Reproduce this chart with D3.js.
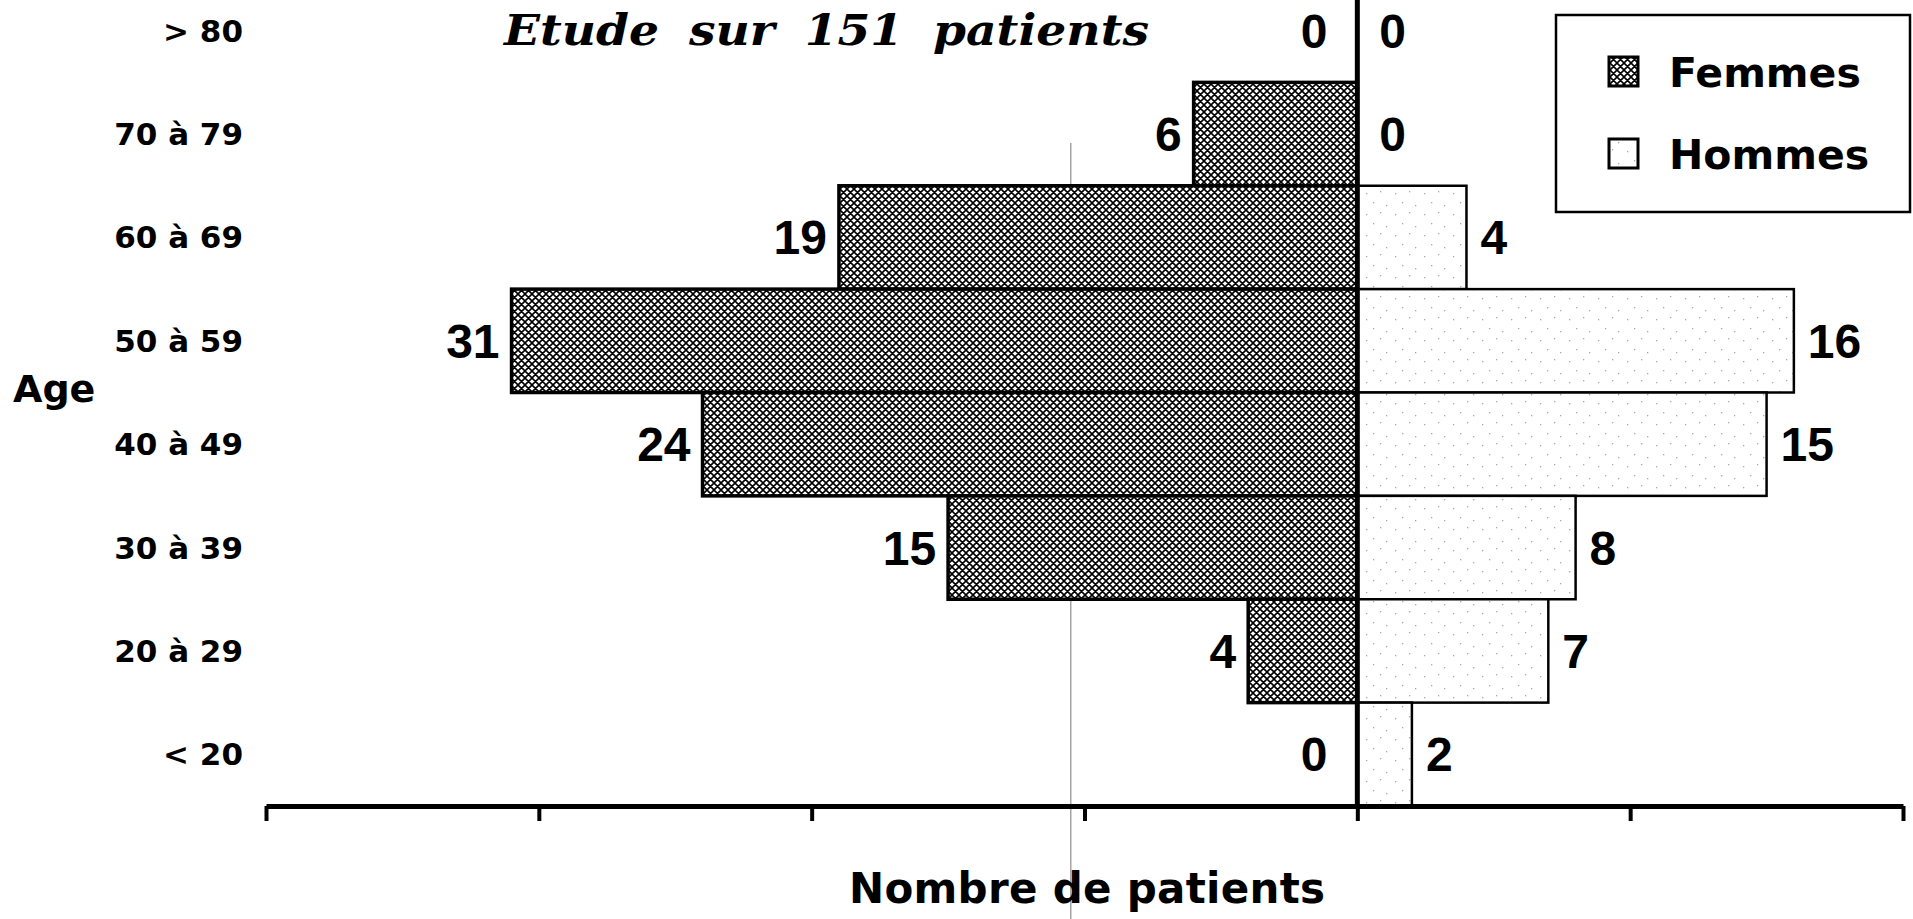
<!DOCTYPE html>
<html lang="fr">
<head>
   <meta charset="utf-8">
   <title>Etude sur 151 patients</title>
   <script src="https://cdn.jsdelivr.net/npm/d3@7/dist/d3.min.js"></script>
   <style type="text/css">
      body { margin: 0; background: #fff; }
      svg { display: block; }
   </style>
</head>
<body>
   <script type="text/javascript">

      var w = 1913;
      var h = 919;

      // data
      var ages = ["> 80", "70 à 79", "60 à 69", "50 à 59", "40 à 49", "30 à 39", "20 à 29", "< 20"];
      var femmes = [0, 6, 19, 31, 24, 15, 4, 0];
      var hommes = [0, 0, 4, 16, 15, 8, 7, 2];
      var xTicks = [-40, -30, -20, -10, 0, 10, 20];
      var seriesNames = ["Femmes", "Hommes"];

      var dataset = ages.map(function(a, i) {
         return { age: a, f: femmes[i], m: hommes[i] };
      });

      var xScale = d3.scaleLinear()
                     .domain([-40, 20])
                     .range([266, 1903]);

      var yScale = d3.scaleBand()
                     .domain(ages)
                     .range([-21, 806])
                     .padding(0);

      var svg = d3.select("body")
                  .append("svg")
                  .attr("width", w)
                  .attr("height", h);

      var defs = svg.append("defs");

      // crosshatch for femmes
      var hatch = defs.append("pattern")
         .attr("id", "hatch")
         .attr("patternUnits", "userSpaceOnUse")
         .attr("width", 7)
         .attr("height", 7);
      hatch.append("rect").attr("width", 7).attr("height", 7).attr("fill", "#fff");
      hatch.append("path")
         .attr("d", "M0,0L7,7M7,0L0,7M-1,1L1,-1M6,8L8,6M-1,6L1,8M6,-1L8,1")
         .attr("stroke", "#000")
         .attr("stroke-width", 1.6);

      // light stipple for hommes
      var dots = defs.append("pattern")
         .attr("id", "dots")
         .attr("patternUnits", "userSpaceOnUse")
         .attr("width", 29)
         .attr("height", 21);
      dots.append("rect").attr("width", 29).attr("height", 21).attr("fill", "#fff");
      [[3, 4], [17, 2], [10, 13], [23, 16]].forEach(function(p) {
         dots.append("rect")
            .attr("x", p[0]).attr("y", p[1])
            .attr("width", 1.3).attr("height", 1.3)
            .attr("fill", "#aaa");
      });

      // faint scan line
      svg.append("line")
         .attr("x1", xScale(-10.5)).attr("x2", xScale(-10.5))
         .attr("y1", 143).attr("y2", h)
         .attr("stroke", "#777")
         .attr("stroke-width", 1);

      // femmes bars
      svg.selectAll("rect.f")
         .data(dataset.filter(function(d) { return d.f > 0; }))
         .enter()
         .append("rect")
         .attr("class", "f")
         .attr("x", function(d) { return xScale(-d.f); })
         .attr("y", function(d) { return yScale(d.age); })
         .attr("width", function(d) { return xScale(0) - xScale(-d.f); })
         .attr("height", yScale.bandwidth())
         .attr("fill", "url(#hatch)")
         .attr("stroke", "#000")
         .attr("stroke-width", 3.5);

      // hommes bars
      svg.selectAll("rect.m")
         .data(dataset.filter(function(d) { return d.m > 0; }))
         .enter()
         .append("rect")
         .attr("class", "m")
         .attr("x", xScale(0))
         .attr("y", function(d) { return yScale(d.age); })
         .attr("width", function(d) { return xScale(d.m) - xScale(0); })
         .attr("height", yScale.bandwidth())
         .attr("fill", "url(#dots)")
         .attr("stroke", "#000")
         .attr("stroke-width", 2.5);

      // value labels
      svg.selectAll("text.fv")
         .data(dataset)
         .enter()
         .append("text")
         .attr("class", "fv")
         .attr("x", function(d) { return xScale(-d.f) - (d.f === 0 ? 30 : 12); })
         .attr("y", function(d) { return yScale(d.age) + yScale.bandwidth() / 2 + 17; })
         .attr("text-anchor", "end")
         .attr("font-family", "Liberation Sans, Arial, sans-serif")
         .attr("font-weight", "bold")
         .attr("font-size", "48px")
         .text(function(d) { return d.f; });

      svg.selectAll("text.mv")
         .data(dataset)
         .enter()
         .append("text")
         .attr("class", "mv")
         .attr("x", function(d) { return xScale(d.m) + (d.m === 0 ? 22 : 14); })
         .attr("y", function(d) { return yScale(d.age) + yScale.bandwidth() / 2 + 17; })
         .attr("text-anchor", "start")
         .attr("font-family", "Liberation Sans, Arial, sans-serif")
         .attr("font-weight", "bold")
         .attr("font-size", "48px")
         .text(function(d) { return d.m; });

      // age labels
      svg.selectAll("text.age")
         .data(ages)
         .enter()
         .append("text")
         .attr("class", "age")
         .attr("x", 243)
         .attr("y", function(d) { return yScale(d) + yScale.bandwidth() / 2 + 11; })
         .attr("text-anchor", "end")
         .attr("font-family", "DejaVu Sans, sans-serif")
         .attr("font-weight", "bold")
         .attr("font-size", "31px")
         .text(function(d) { return d; });

      // center axis
      svg.append("line")
         .attr("x1", xScale(0)).attr("x2", xScale(0))
         .attr("y1", 0).attr("y2", 806)
         .attr("stroke", "#000")
         .attr("stroke-width", 5);

      // x axis, ticks without labels
      var xAxis = d3.axisBottom(xScale)
                    .tickValues(xTicks)
                    .tickSize(15)
                    .tickSizeOuter(0)
                    .tickFormat("");

      var gx = svg.append("g")
         .attr("class", "axis")
         .attr("transform", "translate(0,806)")
         .call(xAxis);
      gx.select(".domain").attr("stroke", "#000").attr("stroke-width", 5);
      gx.selectAll(".tick line").attr("stroke", "#000").attr("stroke-width", 4);

      // title
      svg.append("text")
         .attr("x", 504)
         .attr("y", 45)
         .attr("font-family", "DejaVu Serif, serif")
         .attr("font-style", "italic")
         .attr("font-weight", "bold")
         .attr("font-size", "42px")
         .attr("word-spacing", "12px")
         .attr("textLength", 645)
         .attr("lengthAdjust", "spacingAndGlyphs")
         .text("Etude sur 151 patients");

      // axis titles
      svg.append("text")
         .attr("x", 13)
         .attr("y", 402)
         .attr("font-family", "DejaVu Sans, sans-serif")
         .attr("font-weight", "bold")
         .attr("font-size", "38px")
         .text("Age");

      svg.append("text")
         .attr("x", 1087)
         .attr("y", 903)
         .attr("text-anchor", "middle")
         .attr("font-family", "DejaVu Sans, sans-serif")
         .attr("font-weight", "bold")
         .attr("font-size", "42px")
         .attr("textLength", 476)
         .attr("lengthAdjust", "spacing")
         .text("Nombre de patients");

      // legend
      var legend = svg.append("g").attr("class", "legend");
      legend.append("rect")
         .attr("x", 1556).attr("y", 15)
         .attr("width", 354).attr("height", 197)
         .attr("fill", "#fff")
         .attr("stroke", "#000")
         .attr("stroke-width", 2.5);

      var fills = ["url(#hatch)", "url(#dots)"];
      seriesNames.forEach(function(name, i) {
         legend.append("rect")
            .attr("x", 1609).attr("y", 57 + i * 82)
            .attr("width", 29).attr("height", 29)
            .attr("fill", fills[i])
            .attr("stroke", "#000")
            .attr("stroke-width", 3);
         legend.append("text")
            .attr("x", 1669).attr("y", 87 + i * 82)
            .attr("font-family", "DejaVu Sans, sans-serif")
            .attr("font-weight", "bold")
            .attr("font-size", "41px")
            .text(name);
      });
   </script>
</body>
</html>
